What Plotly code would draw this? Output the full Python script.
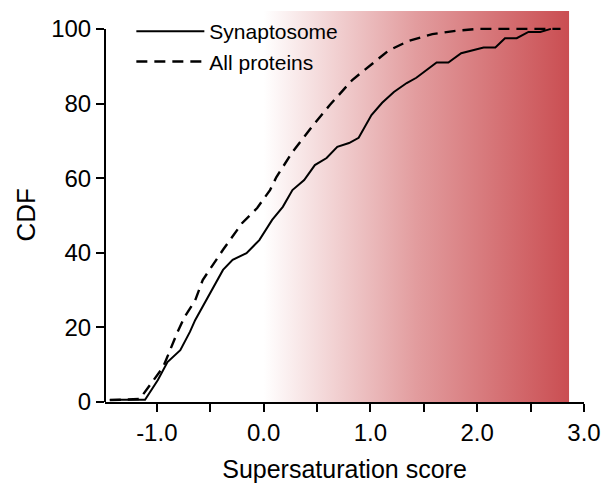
import plotly.graph_objects as go

# Synaptosome CDF
syn_x = [-1.44, -1.11, -0.99, -0.90, -0.78, -0.69, -0.64, -0.52, -0.38, -0.29, -0.16, -0.04,
         0.08, 0.18, 0.27, 0.38, 0.48, 0.59, 0.69, 0.80, 0.89, 1.01, 1.11, 1.22, 1.34, 1.43,
         1.62, 1.73, 1.85, 2.06, 2.17, 2.26, 2.37, 2.48, 2.59, 2.69]
syn_y = [0.6, 0.6, 5.9, 10.7, 13.9, 18.8, 22.0, 28.2, 35.4, 38.1, 39.9, 43.4,
         48.8, 52.3, 56.8, 59.5, 63.5, 65.4, 68.4, 69.4, 70.8, 76.9, 80.2, 83.1, 85.5, 86.9,
         91.0, 91.0, 93.5, 95.0, 95.0, 97.5, 97.5, 99.2, 99.2, 100.0]

# All proteins CDF
all_x = [-1.44, -1.16, -0.94, -0.81, -0.74, -0.64, -0.57, -0.38, -0.20, -0.06, 0.06, 0.12,
         0.27, 0.45, 0.62, 0.83, 1.17, 1.36, 1.58, 1.80, 2.01, 2.26, 2.78]
all_y = [0.5, 0.8, 9.4, 18.5, 22.8, 27.3, 32.7, 40.8, 48.0, 52.0, 56.8, 60.3,
         67.0, 73.7, 79.6, 86.3, 94.2, 96.8, 98.6, 99.5, 100.0, 100.0, 100.0]

# Background gradient band (supersaturation > 0)
band_x = [0.0, 2.86]
band_top = 104.8

x_tickvals = [-1.0, -0.5, 0.0, 0.5, 1.0, 1.5, 2.0, 2.5, 3.0]
x_ticktext = ["-1.0", "", "0.0", "", "1.0", "", "2.0", "", "3.0"]
y_tickvals = [0, 20, 40, 60, 80, 100]
y_max = 100

FONT = "Liberation Sans, Arial, Helvetica, sans-serif"

fig = go.Figure()

fig.add_trace(go.Scatter(
    x=[band_x[0], band_x[1], band_x[1], band_x[0], band_x[0]],
    y=[0, 0, band_top, band_top, 0],
    mode="lines", fill="toself", line=dict(width=0),
    fillgradient=dict(type="horizontal",
                      colorscale=[[0, "rgb(255,255,255)"], [0.5, "rgb(226,156,158)"],
                                  [1, "rgb(202,78,82)"]]),
    showlegend=False, hoverinfo="skip"))

fig.add_trace(go.Scatter(x=syn_x, y=syn_y, mode="lines", name="Synaptosome",
                         legendgroup="a", line=dict(color="black", width=2)))
fig.add_trace(go.Scatter(x=all_x, y=all_y, mode="lines", name="All proteins",
                         legendgroup="b",
                         line=dict(color="black", width=2.4, dash="11px,7px")))

# y axis line only spanning 0-100
fig.add_shape(type="line", xref="paper", yref="y", x0=0, x1=0, y0=0, y1=y_max,
              line=dict(color="black", width=2))

fig.add_annotation(text="CDF", xref="paper", yref="y", x=0, y=y_max / 2,
                   xanchor="right", yanchor="middle", xshift=-62, textangle=-90,
                   showarrow=False, font=dict(size=26, family=FONT, color="black"))

fig.update_layout(
    width=612, height=491,
    margin=dict(l=105, r=26, t=11, b=89),
    plot_bgcolor="white", paper_bgcolor="white",
    font=dict(family=FONT, color="black"),
    xaxis=dict(range=[-1.485, 3.0], showline=True, linecolor="black", linewidth=2,
               ticks="outside", ticklen=8, tickwidth=2, tickcolor="black",
               tickvals=x_tickvals, ticktext=x_ticktext, tickfont=dict(size=24),
               showgrid=False, zeroline=False,
               title=dict(text="Supersaturation score", font=dict(size=25), standoff=16)),
    yaxis=dict(range=[0, band_top], showline=False,
               ticks="outside", ticklen=8, tickwidth=2, tickcolor="black",
               tickvals=y_tickvals, tickfont=dict(size=24),
               showgrid=False, zeroline=False),
    legend=dict(x=0.055, y=1.0, xanchor="left", yanchor="top", bgcolor="rgba(0,0,0,0)",
                font=dict(size=21), itemwidth=68, tracegroupgap=6,
                traceorder="normal"),
    showlegend=True,
)

fig.write_html("out.html")
